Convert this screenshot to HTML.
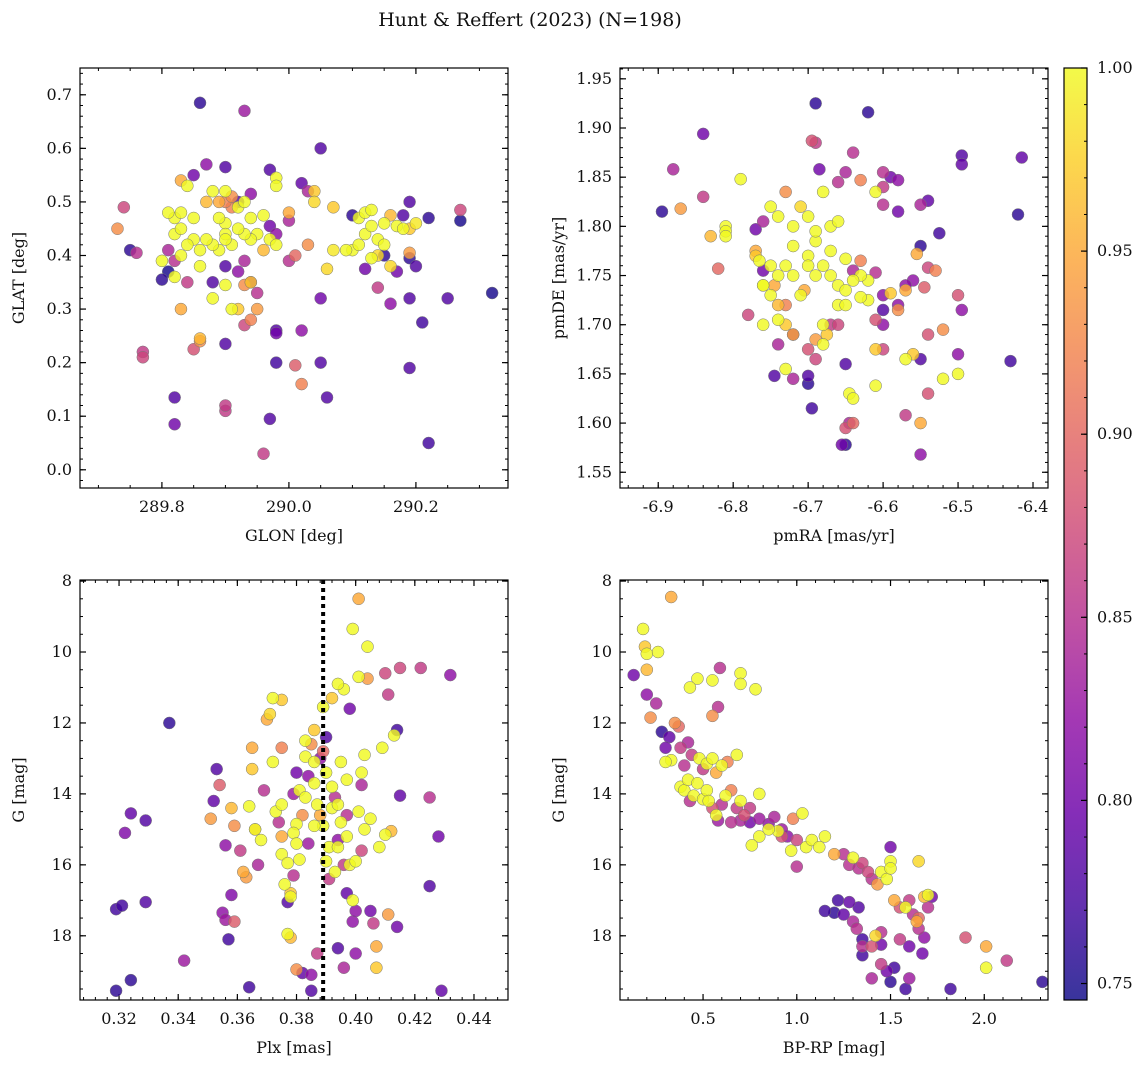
<!DOCTYPE html>
<html><head><meta charset="utf-8"><style>
html,body{margin:0;padding:0;background:#fff;}
svg text{font-family:"DejaVu Serif","Liberation Serif",serif;fill:#111;}
</style></head><body>
<svg id="fig" width="1148" height="1067" viewBox="0 0 1148 1067" xmlns="http://www.w3.org/2000/svg">
<text x="530" y="26" text-anchor="middle" font-size="19">Hunt &amp; Reffert (2023) (N=198)</text>
</svg>
<script>
// Panel 1: GLON / GLAT
const p1Glon=[289.86,289.93,290.05,289.90,289.97,290.02,289.87,289.85,289.94,289.92,290.1,290.18,290.22,290.27,290.27,290.19,290.03,290.15,290.17,290.19,290.2,290.12,290.14,290.16,290.19,290.25,290.32,290.21,290.05,290.0,290.01,290.0,289.97,289.98,289.92,289.94,289.90,289.93,289.88,289.80,289.81,289.75,289.76,289.73,289.74,289.81,289.82,289.84,289.83,289.77,289.77,289.85,289.86,289.86,289.82,289.82,289.9,289.9,289.9,289.94,289.93,289.95,289.98,289.98,290.02,289.98,290.01,290.05,290.02,290.06,289.97,289.96,290.19,290.22,290.07,290.06,290.1,290.09,290.11,290.12,290.11,290.12,290.13,290.13,290.14,290.15,290.15,290.16,290.17,290.18,290.19,290.19,290.2,290.14,290.13,290.16,290.07,290.04,290.04,290.03,290.0,289.98,289.98,289.96,289.97,289.98,289.96,289.95,289.94,289.93,289.92,289.91,289.9,289.9,289.9,289.89,289.88,289.87,289.86,289.85,289.84,289.83,289.82,289.83,289.82,289.83,289.81,289.84,289.83,289.87,289.88,289.89,289.9,289.91,289.92,289.93,289.94,289.89,289.85,289.86,289.88,289.91,289.92,289.93,289.94,289.95,289.9,289.82,289.8,289.91,289.9];
const p1Glat=[0.685,0.67,0.60,0.565,0.56,0.535,0.57,0.55,0.515,0.50,0.475,0.475,0.47,0.465,0.485,0.50,0.52,0.40,0.37,0.395,0.38,0.375,0.34,0.31,0.32,0.32,0.33,0.275,0.32,0.39,0.40,0.465,0.455,0.44,0.37,0.35,0.38,0.39,0.35,0.355,0.37,0.41,0.405,0.45,0.49,0.41,0.39,0.35,0.30,0.22,0.21,0.225,0.24,0.245,0.135,0.085,0.235,0.11,0.12,0.28,0.27,0.3,0.26,0.255,0.26,0.20,0.195,0.20,0.16,0.135,0.095,0.03,0.19,0.05,0.41,0.375,0.41,0.41,0.42,0.44,0.47,0.48,0.485,0.455,0.43,0.42,0.46,0.475,0.455,0.45,0.405,0.45,0.46,0.40,0.395,0.38,0.49,0.52,0.50,0.42,0.48,0.545,0.53,0.475,0.43,0.42,0.41,0.44,0.43,0.44,0.45,0.42,0.46,0.44,0.43,0.41,0.42,0.43,0.41,0.43,0.42,0.40,0.44,0.45,0.47,0.48,0.48,0.53,0.54,0.5,0.52,0.5,0.52,0.51,0.49,0.5,0.47,0.47,0.47,0.38,0.32,0.30,0.30,0.345,0.35,0.33,0.345,0.36,0.39,0.49,0.5];
const p1Prob=[0.76,0.83,0.78,0.78,0.78,0.79,0.82,0.80,0.82,0.78,0.76,0.78,0.76,0.75,0.87,0.78,0.84,0.76,0.80,0.76,0.78,0.80,0.86,0.82,0.78,0.78,0.75,0.77,0.80,0.85,0.9,0.84,0.80,0.82,0.82,0.80,0.78,0.84,0.78,0.76,0.75,0.76,0.85,0.93,0.87,0.84,0.85,0.86,0.95,0.86,0.87,0.88,0.93,0.96,0.78,0.80,0.78,0.86,0.86,0.92,0.87,0.94,0.78,0.80,0.82,0.77,0.89,0.78,0.92,0.78,0.78,0.86,0.78,0.77,0.99,0.98,1,1,1,1,1,1,1,1,1,1,1,0.96,1,1,0.94,0.97,0.99,0.98,1,0.98,0.97,0.97,0.98,0.93,0.95,1,1,1,1,1,0.96,1,1,1,1,1,1,1,1,1,1,1,1,1,1,1,1,1,1,1,1,1,0.95,0.96,1,0.95,1,0.93,1,1,1,1,1,1,1,1,0.97,0.93,0.97,0.85,1,1,1,0.92,0.92];
// Panel 2: pmRA / pmDE
const p2Pmra=[-6.895,-6.87,-6.88,-6.84,-6.84,-6.83,-6.82,-6.81,-6.81,-6.81,-6.79,-6.78,-6.77,-6.77,-6.765,-6.76,-6.76,-6.75,-6.76,-6.77,-6.76,-6.75,-6.74,-6.73,-6.72,-6.71,-6.70,-6.72,-6.73,-6.74,-6.745,-6.74,-6.73,-6.72,-6.73,-6.74,-6.74,-6.745,-6.73,-6.72,-6.7,-6.70,-6.695,-6.7,-6.71,-6.705,-6.70,-6.69,-6.69,-6.695,-6.69,-6.69,-6.685,-6.68,-6.67,-6.66,-6.67,-6.68,-6.67,-6.66,-6.65,-6.66,-6.67,-6.675,-6.68,-6.69,-6.69,-6.66,-6.65,-6.645,-6.64,-6.65,-6.645,-6.64,-6.655,-6.65,-6.66,-6.65,-6.64,-6.63,-6.62,-6.61,-6.6,-6.6,-6.59,-6.58,-6.6,-6.58,-6.55,-6.54,-6.525,-6.55,-6.555,-6.54,-6.53,-6.5,-6.495,-6.5,-6.5,-6.52,-6.52,-6.54,-6.545,-6.56,-6.57,-6.57,-6.58,-6.59,-6.6,-6.61,-6.6,-6.6,-6.61,-6.62,-6.62,-6.63,-6.64,-6.64,-6.65,-6.63,-6.61,-6.61,-6.6,-6.58,-6.57,-6.56,-6.55,-6.54,-6.55,-6.55,-6.57,-6.43,-6.42,-6.415,-6.495,-6.495,-6.72,-6.68,-6.65,-6.63,-6.7,-6.69,-6.76,-6.75,-6.72];
const p2Pmde=[1.815,1.818,1.858,1.894,1.83,1.79,1.757,1.80,1.795,1.79,1.848,1.71,1.775,1.77,1.765,1.755,1.74,1.73,1.70,1.797,1.805,1.82,1.81,1.835,1.80,1.82,1.81,1.78,1.76,1.75,1.74,1.72,1.70,1.69,1.72,1.705,1.68,1.648,1.655,1.645,1.648,1.64,1.615,1.675,1.73,1.735,1.77,1.785,1.795,1.887,1.885,1.925,1.858,1.835,1.80,1.805,1.775,1.76,1.75,1.74,1.735,1.72,1.70,1.69,1.68,1.685,1.665,1.7,1.66,1.63,1.625,1.595,1.6,1.6,1.578,1.578,1.845,1.855,1.875,1.847,1.916,1.835,1.855,1.84,1.85,1.847,1.822,1.815,1.822,1.826,1.793,1.78,1.772,1.758,1.755,1.73,1.715,1.67,1.65,1.645,1.695,1.69,1.738,1.745,1.74,1.735,1.72,1.732,1.73,1.705,1.7,1.675,1.675,1.725,1.745,1.75,1.745,1.755,1.767,1.765,1.753,1.638,1.715,1.715,1.665,1.67,1.665,1.63,1.6,1.568,1.608,1.663,1.812,1.87,1.872,1.863,1.69,1.7,1.72,1.728,1.76,1.75,1.74,1.76,1.75];
const p2Prob=[0.76,0.94,0.84,0.8,0.86,0.96,0.9,1,1,1,1,0.87,0.95,0.97,1,0.80,1,1,1,0.8,0.84,1,1,0.93,1,0.98,1,1,1,1,0.95,0.96,0.97,0.80,0.92,1,0.84,0.78,1,0.84,0.78,0.76,0.77,0.88,1,0.95,1,1,1,0.88,0.86,0.76,0.8,1,1,1,1,1,1,1,1,1,0.86,0.97,1,0.94,0.87,0.87,0.78,1,1,0.88,0.84,0.9,0.8,0.76,0.85,0.84,0.85,0.92,0.76,1,0.85,0.86,0.8,0.82,0.85,0.80,0.84,0.79,0.77,0.76,0.95,0.87,0.92,0.88,0.82,0.82,1,1,0.93,0.88,0.89,0.82,0.82,0.95,0.82,0.97,0.82,0.88,0.82,0.87,0.97,1,1,1,1,0.84,1,0.92,0.85,1,0.78,0.93,1,0.97,0.78,0.88,0.95,0.82,0.86,0.77,0.76,0.79,0.78,0.79,0.95,1,1,1,1,1,1,1,1];
// Panel 3: Plx / G
const p3Plx=[0.319,0.319,0.321,0.322,0.324,0.324,0.329,0.329,0.337,0.342,0.351,0.352,0.353,0.354,0.355,0.356,0.357,0.356,0.358,0.359,0.359,0.358,0.361,0.362,0.363,0.364,0.364,0.365,0.365,0.366,0.366,0.367,0.368,0.369,0.37,0.371,0.372,0.372,0.373,0.374,0.375,0.375,0.375,0.375,0.376,0.377,0.378,0.377,0.378,0.379,0.38,0.381,0.38,0.381,0.382,0.379,0.383,0.384,0.384,0.385,0.386,0.386,0.387,0.388,0.388,0.389,0.389,0.39,0.39,0.391,0.391,0.392,0.392,0.393,0.394,0.394,0.395,0.396,0.397,0.398,0.398,0.399,0.399,0.4,0.4,0.401,0.401,0.402,0.402,0.403,0.404,0.404,0.405,0.406,0.407,0.407,0.408,0.409,0.41,0.411,0.41,0.412,0.411,0.413,0.414,0.414,0.415,0.415,0.422,0.425,0.425,0.428,0.429,0.432,0.385,0.385,0.382,0.38,0.387,0.394,0.396,0.4,0.401,0.399,0.396,0.394,0.392,0.389,0.386,0.383,0.38,0.377,0.375,0.39,0.393,0.395,0.397,0.402,0.379,0.378,0.383,0.386,0.394,0.397,0.403,0.405,0.397];
const p3G=[19.55,17.25,17.15,15.1,14.55,19.25,17.05,14.75,12.0,18.7,14.7,14.2,13.3,13.75,17.35,17.55,18.1,15.45,16.85,17.6,14.9,14.4,15.6,16.2,16.35,19.45,14.35,12.7,13.3,15.0,15.0,16.0,15.3,13.9,11.9,11.75,11.3,13.1,14.5,14.8,11.35,12.7,14.3,15.7,16.55,17.95,18.05,17.05,16.9,14.0,13.4,13.9,14.85,15.85,14.6,15.1,12.95,13.5,15.4,12.6,13.7,13.1,14.3,13.0,14.6,12.8,14.9,13.4,12.4,15.5,16.4,14.4,13.8,14.1,14.3,15.3,14.8,16.0,13.6,11.6,16.0,17.0,17.6,17.3,15.9,14.5,10.7,15.6,13.4,12.9,10.75,9.85,17.3,17.65,18.3,18.9,15.5,12.7,10.6,11.2,15.15,15.05,17.4,12.35,12.2,17.75,14.05,10.45,10.45,16.6,14.1,15.2,19.55,10.65,19.55,19.1,19.05,18.95,18.5,18.35,18.9,18.5,8.5,9.35,11.05,10.9,11.3,11.55,12.2,12.5,15.4,15.95,15.2,15.9,16.2,13.1,14.6,13.75,16.3,16.8,14.1,14.9,15.5,15.2,15.0,14.7,16.8];
const p3Prob=[0.76,0.77,0.77,0.81,0.79,0.76,0.78,0.78,0.76,0.83,0.94,0.79,0.78,0.89,0.82,0.83,0.77,0.82,0.81,0.89,0.93,0.96,0.86,0.95,0.94,0.77,1,0.95,0.97,0.94,1,0.84,1,0.85,0.95,0.98,1,1,1,0.85,0.97,0.92,1,1,1,1,0.96,0.78,1,0.83,0.80,1,1,1,0.93,1,1,0.82,0.83,0.93,1,1,1,0.82,0.95,0.90,1,1,0.78,1,0.86,1,1,0.85,1,0.82,1,0.86,1,0.8,1,1,0.82,0.82,1,1,1,0.87,1,1,0.94,1,0.80,0.86,0.95,0.97,1,1,0.87,0.86,1,0.96,0.94,1,0.77,0.8,0.79,0.87,0.86,0.78,0.85,0.8,0.79,0.82,0.78,0.82,0.79,0.93,0.86,0.78,0.84,0.82,0.95,1,1,1,0.97,1,0.97,1,1,1,0.95,1,1,1,0.85,0.84,0.85,0.97,1,1,1,1,1,1,0.79];
const p3Line=[0.389];
// Panel 4: BP-RP / G
const p4Color=[0.18,0.19,0.2,0.2,0.26,0.33,0.47,0.43,0.55,0.59,0.7,0.7,0.78,0.55,0.58,0.13,0.2,0.22,0.25,0.28,0.32,0.3,0.35,0.37,0.38,0.42,0.44,0.33,0.3,0.4,0.48,0.5,0.52,0.55,0.57,0.6,0.63,0.68,0.38,0.4,0.42,0.43,0.45,0.47,0.5,0.52,0.53,0.55,0.57,0.6,0.62,0.65,0.68,0.7,0.72,0.75,0.8,0.58,0.65,0.7,0.75,0.8,0.85,0.88,0.92,0.95,1.0,1.03,0.98,0.92,0.9,0.85,0.8,0.76,0.97,1.0,1.05,1.08,1.12,1.15,1.2,1.25,1.28,1.3,1.33,1.35,1.38,1.4,1.43,1.45,1.48,1.5,1.5,1.5,1.52,1.55,1.58,1.6,1.62,1.64,1.65,1.65,1.68,1.7,1.72,1.65,1.7,1.68,1.67,1.6,1.55,1.42,1.4,1.35,1.32,1.3,1.25,1.2,1.15,1.22,1.28,1.33,1.35,1.35,1.4,1.45,1.48,1.5,1.52,1.58,1.6,1.82,1.9,2.01,2.01,2.12,2.31,1.45,1.45];
const p4G=[9.35,9.85,10.05,10.5,10.0,8.45,10.75,11.0,10.8,10.45,10.6,10.9,11.05,11.8,11.55,10.65,11.2,11.85,11.45,12.25,12.4,12.7,12.0,12.1,12.7,12.55,12.9,13.05,13.1,13.2,13.0,13.3,13.15,13.0,13.4,13.2,13.1,12.9,13.8,13.9,13.6,14.2,14.05,13.7,14.15,13.9,14.2,14.4,14.6,14.3,14.05,13.9,14.4,14.2,14.6,14.4,14.0,14.75,14.8,14.75,14.8,14.7,14.85,14.65,15.0,15.2,15.3,14.55,14.7,15.2,15.05,15.0,15.2,15.45,15.6,16.05,15.5,15.3,15.5,15.2,15.7,15.7,16.0,15.8,16.1,15.95,16.2,16.4,16.55,16.2,16.4,15.9,16.1,15.5,17.0,17.2,17.2,17.0,17.4,17.6,17.8,17.5,16.9,17.2,16.9,15.9,16.85,18.05,18.5,18.3,18.1,18.0,18.3,18.3,17.8,17.6,17.4,17.35,17.3,17.0,17.05,17.2,18.1,18.55,19.2,18.8,19.0,19.3,18.9,19.5,19.2,19.5,18.05,18.3,18.9,18.7,19.3,17.9,18.25];
const p4Prob=[1,0.97,1,0.96,1,0.95,1,1,1,0.85,1,1,1,0.93,0.85,0.8,0.82,0.93,0.84,0.76,0.79,0.8,0.93,0.9,0.86,0.84,0.86,1,1,0.85,1,0.86,1,1,0.95,1,0.92,1,1,1,1,0.85,1,1,1,1,1,0.88,1,0.85,1,0.92,0.86,1,0.88,0.86,1,0.83,0.85,0.84,0.8,0.83,0.82,0.84,0.83,0.82,0.87,1,0.92,0.88,1,1,1,1,1,0.85,1,1,1,1,0.95,0.85,0.85,1,0.85,0.87,0.87,0.85,0.94,1,1,1,1,0.8,0.95,0.88,1,0.86,0.85,0.95,0.85,0.9,0.96,0.85,0.8,0.98,1,0.82,0.8,0.8,0.86,0.98,0.88,0.85,0.85,0.84,0.79,0.76,0.77,0.77,0.79,0.78,0.77,0.77,0.84,0.86,0.8,0.76,0.77,0.77,0.83,0.77,0.88,0.95,1,0.86,0.76,0.85,0.8];
// Colorbar
const cbTicks=[0.75,0.80,0.85,0.90,0.95,1.00];
const cbMin=0.7455, cbMax=1.0;

const NS="http://www.w3.org/2000/svg";
const svg=document.getElementById('fig');
function el(tag,attrs,parent){const e=document.createElementNS(NS,tag);for(const k in attrs)e.setAttribute(k,attrs[k]);(parent||svg).appendChild(e);return e;}
const stops=["#0d0887","#41049d","#6a00a8","#8f0da4","#b12a90","#cc4778","#e16462","#f2844b","#fca636","#fcce25","#f0f921"];
function hex(h){return[parseInt(h.substr(1,2),16),parseInt(h.substr(3,2),16),parseInt(h.substr(5,2),16)];}
function plasma(t){t=Math.max(0,Math.min(1,t));const f=t*10,i=Math.min(9,Math.floor(f)),r=f-i;const a=hex(stops[i]),b=hex(stops[i+1]);return "rgb("+a.map((v,k)=>Math.round(v+(b[k]-v)*r)).join(",")+")";}
function cmap(p){return plasma((p-cbMin)/(cbMax-cbMin));}

function axes(o){
  const g=el('g',{});
  
  
  const X=v=>o.x0+(v-o.xmin)/(o.xmax-o.xmin)*(o.x1-o.x0);
  const Y=o.yinv?(v=>o.y0+(v-o.ymin)/(o.ymax-o.ymin)*(o.y1-o.y0)):(v=>o.y1-(v-o.ymin)/(o.ymax-o.ymin)*(o.y1-o.y0));
  const mt=el('g',{stroke:'#000','stroke-width':1},g);
  
  
  for(let v=Math.ceil(o.xmin/o.xminor-1e-6)*o.xminor;v<=o.xmax+1e-9;v+=o.xminor){const x=X(v);el('line',{x1:x,x2:x,y1:o.y1,y2:o.y1-3},mt);el('line',{x1:x,x2:x,y1:o.y0,y2:o.y0+3},mt);}
  for(let v=Math.ceil(o.ymin/o.yminor-1e-6)*o.yminor;v<=o.ymax+1e-9;v+=o.yminor){const y=Y(v);el('line',{x1:o.x0,x2:o.x0+3,y1:y,y2:y},mt);el('line',{x1:o.x1,x2:o.x1-3,y1:y,y2:y},mt);}
  o.xticks.forEach(v=>{const x=X(v);el('line',{x1:x,x2:x,y1:o.y1,y2:o.y1-6,stroke:'#000','stroke-width':1.2},g);el('line',{x1:x,x2:x,y1:o.y0,y2:o.y0+6,stroke:'#000','stroke-width':1.2},g);
    const t=el('text',{x:x,y:o.y1+24,'text-anchor':'middle','font-size':16},g);t.textContent=v.toFixed(o.xdec);
    
    });
  o.yticks.forEach(v=>{const y=Y(v);el('line',{x1:o.x0,x2:o.x0+6,y1:y,y2:y,stroke:'#000','stroke-width':1.2},g);el('line',{x1:o.x1,x2:o.x1-6,y1:y,y2:y,stroke:'#000','stroke-width':1.2},g);
    const t=el('text',{x:o.x0-8,y:y+5,'text-anchor':'end','font-size':16},g);t.textContent=v.toFixed(o.ydec);
    
    });
  const pts=el('g',{},g);
  
  
  const order=o.xs.map((_,i)=>i).sort((a,b)=>o.ps[a]-o.ps[b]);
  order.forEach(i=>{const c=el('circle',{cx:X(o.xs[i]),cy:Y(o.ys[i]),r:6,fill:cmap(o.ps[i]),'fill-opacity':0.82,stroke:'#777','stroke-width':0.5},pts);
    
    });
  if(o.vline){o.vline.forEach(v=>{const l=el('line',{x1:X(v),x2:X(v),y1:o.y0,y2:o.y1,stroke:'#000','stroke-width':4,'stroke-dasharray':'4,4'},g);
    
    });}
  el('rect',{x:o.x0,y:o.y0,width:o.x1-o.x0,height:o.y1-o.y0,fill:'none',stroke:'#000','stroke-width':1.2},g);
  const xl=el('text',{x:(o.x0+o.x1)/2,y:o.y1+53,'text-anchor':'middle','font-size':16},g);xl.textContent=o.xlabel;
  
  
  const yl=el('text',{x:0,y:0,'text-anchor':'middle','font-size':16,transform:`translate(${o.x0-56},${(o.y0+o.y1)/2}) rotate(-90)`},g);yl.textContent=o.ylabel;
  
  
}
axes({name:'glon-glat-panel',x0:80,x1:508,y0:68,y1:488,xmin:289.671,xmax:290.345,ymin:-0.034,ymax:0.750,xticks:[289.8,290.0,290.2],yticks:[0,0.1,0.2,0.3,0.4,0.5,0.6,0.7],xminor:0.05,yminor:0.02,xdec:1,ydec:1,xs:p1Glon,ys:p1Glat,ps:p1Prob,xlabel:'GLON [deg]',ylabel:'GLAT [deg]'});
axes({name:'pm-panel',x0:620,x1:1048,y0:68,y1:488,xmin:-6.951,xmax:-6.38,ymin:1.534,ymax:1.961,xticks:[-6.9,-6.8,-6.7,-6.6,-6.5,-6.4],yticks:[1.55,1.6,1.65,1.7,1.75,1.8,1.85,1.9,1.95],xminor:0.02,yminor:0.01,xdec:1,ydec:2,xs:p2Pmra,ys:p2Pmde,ps:p2Prob,xlabel:'pmRA [mas/yr]',ylabel:'pmDE [mas/yr]'});
axes({name:'plx-g-panel',x0:80,x1:508,y0:580,y1:1000,xmin:0.3068,xmax:0.4515,ymin:7.97,ymax:19.81,yinv:true,xticks:[0.32,0.34,0.36,0.38,0.40,0.42,0.44],yticks:[8,10,12,14,16,18],xminor:0.004,yminor:0.5,xdec:2,ydec:0,xs:p3Plx,ys:p3G,ps:p3Prob,vline:p3Line,xlabel:'Plx [mas]',ylabel:'G [mag]'});
axes({name:'cmd-panel',x0:620,x1:1048,y0:580,y1:1000,xmin:0.057,xmax:2.34,ymin:7.97,ymax:19.81,yinv:true,xticks:[0.5,1.0,1.5,2.0],yticks:[8,10,12,14,16,18],xminor:0.1,yminor:0.5,xdec:1,ydec:0,xs:p4Color,ys:p4G,ps:p4Prob,xlabel:'BP-RP [mag]',ylabel:'G [mag]'});

const cb=el('g',{});


const cx0=1064,cx1=1087,cy0=68,cy1=1000;
const defs=el('defs',{},cb);
const lg=el('linearGradient',{id:'cbg',x1:0,y1:1,x2:0,y2:0},defs);
for(let i=0;i<=20;i++){el('stop',{offset:i/20,'stop-color':plasma(i/20),'stop-opacity':0.82},lg);}
el('rect',{x:cx0,y:cy0,width:cx1-cx0,height:cy1-cy0,fill:'url(#cbg)',stroke:'#000','stroke-width':1.2},cb);
const CY=v=>cy1-(v-cbMin)/(cbMax-cbMin)*(cy1-cy0);
for(let v=0.75;v<=1.0001;v+=0.01){const y=CY(v);el('line',{x1:cx1,x2:cx1-3,y1:y,y2:y,stroke:'#000'},cb);}
cbTicks.forEach(v=>{const y=CY(v);el('line',{x1:cx1,x2:cx1-6,y1:y,y2:y,stroke:'#000','stroke-width':1.2},cb);
  const t=el('text',{x:cx1+10,y:y+5,'font-size':16},cb);t.textContent=v.toFixed(2);
  
  });
</script>
</body></html>
